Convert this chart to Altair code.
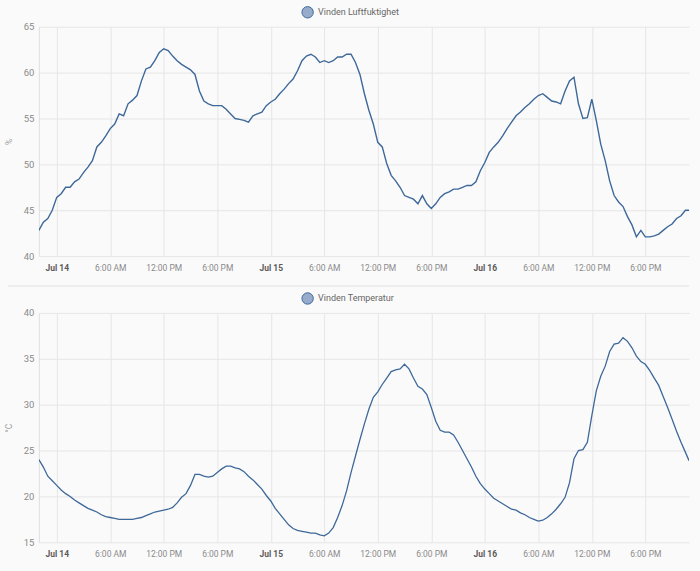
import altair as alt
import pandas as pd

# ---- data ----
BASE = pd.Timestamp("2023-07-14 00:00")
hours = [-2 + 0.5 * i for i in range(146)] + [70.9]

humidity = [
    42.8, 43.7, 44.1, 45.0, 46.4, 46.8, 47.5, 47.5, 48.1, 48.4,
    49.1, 49.7, 50.4, 51.9, 52.4, 53.1, 53.9, 54.4, 55.5, 55.3,
    56.6, 57.0, 57.5, 59.1, 60.4, 60.6, 61.3, 62.2, 62.6, 62.4,
    61.8, 61.3, 60.9, 60.6, 60.3, 59.8, 58.0, 56.9, 56.6, 56.4,
    56.4, 56.4, 56.0, 55.5, 55.0, 54.9, 54.8, 54.6, 55.3, 55.5,
    55.7, 56.4, 56.8, 57.1, 57.7, 58.2, 58.8, 59.3, 60.2, 61.3,
    61.8, 62.0, 61.7, 61.1, 61.3, 61.1, 61.3, 61.7, 61.7, 62.0,
    62.0, 61.1, 59.8, 57.7, 55.9, 54.4, 52.4, 51.9, 50.1, 48.8,
    48.2, 47.5, 46.6, 46.4, 46.2, 45.7, 46.6, 45.7, 45.2, 45.7,
    46.4, 46.8, 47.0, 47.3, 47.3, 47.5, 47.7, 47.7, 48.1, 49.3,
    50.2, 51.3, 51.9, 52.4, 53.1, 53.9, 54.6, 55.3, 55.7, 56.2,
    56.6, 57.1, 57.5, 57.7, 57.3, 56.9, 56.8, 56.6, 58.0, 59.1,
    59.5, 56.6, 55.0, 55.1, 57.1, 54.8, 52.2, 50.4, 48.2, 46.6,
    45.9, 45.4, 44.3, 43.4, 42.1, 42.8, 42.1, 42.1, 42.2, 42.4,
    42.8, 43.2, 43.5, 44.1, 44.4, 45.0, 45.0,
]

temperature = [
    24.0, 23.2, 22.2, 21.7, 21.2, 20.7, 20.3, 20.0, 19.6, 19.3,
    19.0, 18.7, 18.5, 18.3, 18.0, 17.8, 17.7, 17.6, 17.5, 17.5,
    17.5, 17.5, 17.6, 17.7, 17.9, 18.1, 18.3, 18.4, 18.5, 18.6,
    18.8, 19.3, 19.9, 20.3, 21.2, 22.4, 22.4, 22.2, 22.1, 22.2,
    22.6, 23.0, 23.3, 23.3, 23.1, 23.0, 22.7, 22.2, 21.8, 21.3,
    20.8, 20.1, 19.5, 18.7, 18.1, 17.5, 16.9, 16.5, 16.3, 16.2,
    16.1, 16.0, 16.0, 15.8, 15.7, 16.0, 16.6, 17.7, 19.0, 20.6,
    22.6, 24.4, 26.2, 27.9, 29.5, 30.8, 31.4, 32.2, 32.9, 33.6,
    33.8, 33.9, 34.4, 33.9, 32.9, 32.0, 31.7, 31.1, 29.7, 28.2,
    27.2, 27.0, 27.0, 26.7, 25.9, 25.0, 24.1, 23.2, 22.2, 21.4,
    20.8, 20.3, 19.8, 19.5, 19.2, 18.9, 18.6, 18.5, 18.2, 18.0,
    17.7, 17.5, 17.3, 17.4, 17.7, 18.1, 18.6, 19.2, 19.9, 21.5,
    24.1, 25.0, 25.1, 25.9, 28.8, 31.5, 33.1, 34.2, 35.8, 36.6,
    36.7, 37.3, 36.9, 36.2, 35.3, 34.7, 34.4, 33.7, 32.9, 32.1,
    30.9, 29.7, 28.4, 27.1, 25.9, 24.8, 23.9,
]

hum_ticks = [40, 45, 50, 55, 60, 65]
temp_ticks = [15, 20, 25, 30, 35, 40]
hum_name = "Vinden Luftfuktighet"
temp_name = "Vinden Temperatur"

times = [(BASE + pd.Timedelta(hours=h)).strftime("%Y-%m-%dT%H:%M:%S") for h in hours]
df_h = pd.DataFrame({"t": times, "v": humidity, "s": hum_name})
df_t = pd.DataFrame({"t": times, "v": temperature, "s": temp_name})

W, H = 652, 230
LINE = "#3d6899"
FONT = "Roboto"

x_dom = [alt.DateTime(year=2023, month=7, date=13, hours=22),
         alt.DateTime(year=2023, month=7, date=16, hours=22, minutes=54)]

x_axis = alt.Axis(
    title=None,
    tickCount=12,
    labelExpr="hours(datum.value) == 0 ? timeFormat(datum.value, '%b %d') : timeFormat(datum.value, '%-I:%M %p')",
    labelFontWeight={"condition": {"test": "hours(datum.value) == 0", "value": "bold"}, "value": "normal"},
    labelColor={"condition": {"test": "hours(datum.value) == 0", "value": "#5a5a5a"}, "value": "#8a8a8a"},
    labelFontSize=8.5, labelFont=FONT, labelPadding=7,
    ticks=False, domain=False,
    grid=True, gridColor="#e6e6e6", labelFlush=False,
)


def y_axis(vals, title):
    return alt.Axis(
        values=vals, title=title, titleFont=FONT, titleFontSize=8.5,
        titleFontWeight="normal", titleColor="#999999",
        titleX=-25, titleY=H / 2, titleAngle=270,
        labelFont=FONT, labelFontSize=9.5, labelColor="#8a8a8a", labelPadding=5,
        ticks=False, domain=True, domainColor="#e0e0e0",
        grid=True, gridColor="#e6e6e6",
    )


def legend():
    return alt.Legend(
        title=None, orient="none", legendX=263, legendY=-21,
        symbolType="circle", symbolSize=130, symbolFillColor="#97acca",
        symbolStrokeColor="#6d8cb8", symbolStrokeWidth=1, padding=0,
        labelFont=FONT, labelFontSize=9, labelColor="#666666", labelOffset=4,
    )


def panel(df, name, ticks, title, width_px):
    return alt.Chart(df).mark_line(strokeWidth=width_px, clip=True).encode(
        x=alt.X("t:T", scale=alt.Scale(domain=x_dom, nice=False), axis=x_axis),
        y=alt.Y("v:Q", scale=alt.Scale(domain=[ticks[0], ticks[-1]], nice=False, zero=False),
                axis=y_axis(ticks, title)),
        color=alt.Color("s:N", scale=alt.Scale(domain=[name], range=[LINE]), legend=legend()),
    ).properties(width=W, height=H)


top = panel(df_h, hum_name, hum_ticks, "%", 1.4)
bottom_line = panel(df_t, temp_name, temp_ticks, "°C", 1.3)
sep = alt.Chart(df_t.head(1)).mark_rule(color="#e2e2e2", strokeWidth=1).encode(
    x=alt.value(-31), x2=alt.value(652), y=alt.value(-27)
)
bottom = alt.layer(bottom_line, sep)

chart = alt.vconcat(top, bottom, spacing=13).resolve_scale(
    color="independent"
).properties(
    padding={"left": 5, "top": 5, "right": 10, "bottom": 18},
    background="#fafafa",
).configure_view(stroke=None)

chart.save("out.html", embed_options={"renderer": "svg", "actions": False})
